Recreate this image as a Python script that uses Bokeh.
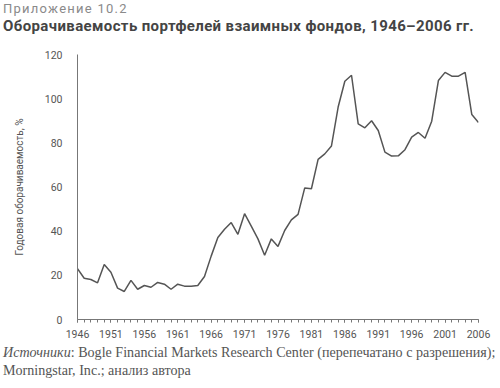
from bokeh.plotting import figure
from bokeh.models import Range1d, FixedTicker, Div
from bokeh.layouts import column
from bokeh.embed import file_html
from bokeh.resources import INLINE

years = list(range(1946, 2007))
turnover = [23.0, 18.7, 18.1, 16.6, 24.9, 21.4, 14.2, 12.7, 17.7, 13.7,
            15.4, 14.6, 16.8, 16.0, 13.7, 16.0, 15.1, 15.1, 15.4, 19.5,
            28.7, 37.1, 40.9, 43.9, 38.6, 47.9, 42.3, 36.5, 29.1, 36.5,
            33.1, 40.3, 45.1, 47.6, 59.6, 59.2, 72.5, 75.0, 78.6, 96.2,
            107.9, 110.6, 88.6, 86.8, 90.0, 85.6, 75.8, 74.0, 74.1, 76.9,
            82.6, 84.7, 82.1, 89.8, 108.2, 111.9, 110.2, 110.2, 111.9, 92.8,
            89.2]
x_label_years = list(range(1946, 2007, 5))
y_ticks = [0, 20, 40, 60, 80, 100, 120]

title_top = "Приложение 10.2"
title_main = "Оборачиваемость портфелей взаимных фондов, 1946–2006 гг."
y_title = "Годовая оборачиваемость, %"
src_italic = "Источники"
src_rest = ": Bogle Financial Markets Research Center (перепечатано с разрешения);"
src_line2 = "Morningstar, Inc.; анализ автора"

SANS = "Roboto"

head = Div(
    text=(f'<div style="font-family:Roboto;font-size:13px;color:#8a8a8a;'
          f'letter-spacing:1.25px;line-height:17px;white-space:nowrap">{title_top}</div>'
          f'<div style="font-family:Roboto;font-weight:bold;font-size:15px;color:#444444;'
          f'letter-spacing:0.38px;line-height:19px;white-space:nowrap">{title_main}</div>'),
    width=500, height=40, margin=0,
    styles={"padding-left": "3px", "box-sizing": "border-box"})

p = figure(width=500, height=302, output_backend="svg", toolbar_location=None,
           x_range=Range1d(1946, 2006), y_range=Range1d(0, 120),
           min_border_left=77, min_border_right=22, min_border_top=14,
           min_border_bottom=23, margin=0)
p.outline_line_color = None
p.xgrid.grid_line_color = None
p.ygrid.grid_line_color = None

p.line(years, turnover, line_color="#555555", line_width=1.5)

# x axis
xa = p.xaxis[0]
xa.ticker = FixedTicker(ticks=x_label_years, minor_ticks=years)
xa.axis_line_color = "#777777"
xa.major_tick_line_color = "#777777"
xa.minor_tick_line_color = "#777777"
xa.major_tick_out = 3
xa.major_tick_in = 0
xa.minor_tick_out = 3
xa.minor_tick_in = 0
xa.major_label_text_font = SANS
xa.major_label_text_font_size = "10.5px"
xa.major_label_text_color = "#555555"
xa.major_label_standoff = 7

# y axis
ya = p.yaxis[0]
ya.ticker = FixedTicker(ticks=y_ticks)
ya.axis_line_color = "#777777"
ya.major_tick_line_color = None
ya.minor_tick_line_color = None
ya.major_tick_out = 0
ya.major_tick_in = 0
ya.major_label_text_font = SANS
ya.major_label_text_font_size = "10.5px"
ya.major_label_text_color = "#555555"
ya.major_label_standoff = 15
ya.axis_label = y_title
ya.axis_label_text_font = SANS
ya.axis_label_text_font_size = "10px"
ya.axis_label_text_font_style = "normal"
ya.axis_label_text_color = "#555555"
ya.axis_label_standoff = 17

foot = Div(
    text=(f'<div style="font-family:\'Liberation Serif\';font-size:14.1px;color:#555555;'
          f'line-height:18px;white-space:nowrap">'
          f'<i>{src_italic}</i>{src_rest}<br>{src_line2}</div>'),
    width=500, height=46, margin=0,
    styles={"padding-left": "3px", "padding-top": "1px", "box-sizing": "border-box"})

layout = column(head, p, foot, spacing=0)

open("out.html", "w").write(file_html(layout, INLINE))
